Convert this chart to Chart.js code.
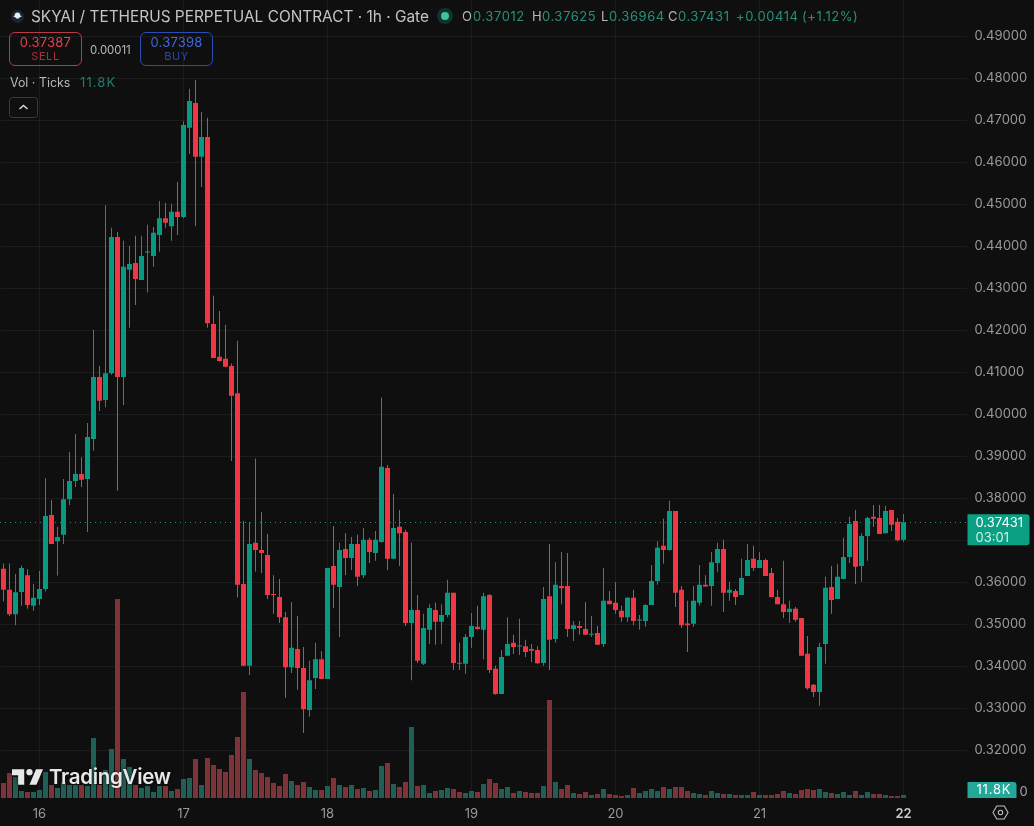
<!DOCTYPE html>
<html>
<head>
<meta charset="utf-8">
<title>SKYAI / TETHERUS PERPETUAL CONTRACT</title>
<script src="https://cdn.jsdelivr.net/npm/chart.js@4/dist/chart.umd.min.js"></script>
<style>
	html, body { margin: 0; padding: 0; background: #0f0f0f; overflow: hidden; }
	#wrap { position: relative; width: 1034px; height: 826px; font-family: Inter, "Noto Sans", sans-serif; }
	#chart { position: absolute; left: 0; top: 0; }
	.txt { position: absolute; white-space: nowrap; line-height: 1; }
	.btn { position: absolute; top: 32px; width: 71px; height: 32px; border-radius: 6px; border: 1px solid; }
	.btn div { position: absolute; left: 0; right: 0; text-align: center; line-height: 1; }
	.num { top: 3px; font-size: 13px; letter-spacing: .2px; }
	.cap { top: 18px; font-size: 11px; letter-spacing: .6px; }
	.ohlc { top: 10px; font-size: 13px; letter-spacing: .55px; }
	.lab { color: #b4b4b4; }
	.val { color: #26917b; }
</style>
</head>
<body>
<div id="wrap">
	<canvas id="chart" width="1034" height="826"></canvas>

	<svg class="txt" style="left:11px;top:10px" width="13" height="13" viewBox="0 0 13 13">
		<circle cx="6.5" cy="6.5" r="6.5" fill="#1b2433"/>
		<path d="M6.5 2.5c1.8 0 2.8 1.2 2.8 2.8l1.4 1.6-1.8.2-1 1.4H5.1l-1-1.4-1.8-.2 1.4-1.6c0-1.6 1-2.8 2.8-2.8z" fill="#e6ecf5"/>
	</svg>
	<div class="txt" style="left:31px;top:8.5px;font-size:15.4px;color:#c4c4c4">SKYAI / TETHERUS PERPETUAL CONTRACT · 1h · Gate</div>
	<svg class="txt" style="left:436px;top:7px" width="18" height="18">
		<circle cx="9" cy="9" r="8" fill="#12332c"/><circle cx="9" cy="9" r="4" fill="#3fc4a2"/>
	</svg>
	<div class="txt lab ohlc" style="left:462px">O</div>
	<div class="txt val ohlc" style="left:473px">0.37012</div>
	<div class="txt lab ohlc" style="left:532px">H</div>
	<div class="txt val ohlc" style="left:542px">0.37625</div>
	<div class="txt lab ohlc" style="left:601px">L</div>
	<div class="txt val ohlc" style="left:609px">0.36964</div>
	<div class="txt lab ohlc" style="left:668px">C</div>
	<div class="txt val ohlc" style="left:678px">0.37431</div>
	<div class="txt val ohlc" style="left:736px">+0.00414</div>
	<div class="txt val ohlc" style="left:802px">(+1.12%)</div>

	<div class="btn" style="left:9px;border-color:#b93a44">
		<div class="num" style="color:#e5404d">0.37387</div>
		<div class="cap" style="color:#a92f3b">SELL</div>
	</div>
	<div class="txt" style="left:90px;top:44.5px;font-size:11.4px;color:#b8b8b8">0.00011</div>
	<div class="btn" style="left:140px;border-color:#2b4db3">
		<div class="num" style="color:#3f68da">0.37398</div>
		<div class="cap" style="color:#2a48a6">BUY</div>
	</div>

	<div class="txt" style="left:10px;top:76.5px;font-size:12.4px;color:#b8b8b8">Vol · Ticks</div>
	<div class="txt" style="left:80px;top:76px;font-size:13px;letter-spacing:1.1px;color:#1f7d68">11.8K</div>
	<svg class="txt" style="left:9px;top:97px" width="29" height="21">
		<rect x=".5" y=".5" width="28" height="20" rx="3" fill="#0f0f0f" stroke="#3a3a3a"/>
		<path d="M10.5 12l4-3.5 4 3.5" fill="none" stroke="#d8d8d8" stroke-width="1.5"/>
	</svg>

	<!-- watermark -->
	<svg class="txt" style="left:12px;top:769px;filter:drop-shadow(0 0 2px #0f0f0f)" width="31" height="16" viewBox="0 4 35.5 18">
		<path d="M14 22H7V11H0V4h14v18zM28 22h-8l7.5-18h8L28 22z" fill="#e8e8e8"/>
		<circle cx="20" cy="7.5" r="3.6" fill="#e8e8e8"/>
	</svg>
	<div class="txt" style="left:49px;top:767px;font-size:20.5px;font-weight:600;color:#e8e8e8;letter-spacing:-.3px;text-shadow:0 0 3px #0f0f0f">TradingView</div>

	<svg class="txt" style="left:992px;top:805px" width="17" height="15" viewBox="0 0 17 15">
		<path d="M1 7.5L4.8 1h7.4L16 7.5 12.2 14H4.8z" fill="none" stroke="#bdbdbd" stroke-width="1.1"/>
		<circle cx="8.5" cy="7.5" r="2.2" fill="none" stroke="#bdbdbd" stroke-width="1.1"/>
	</svg>
</div>

<script>
	// hourly candles, oldest first
	var opens = [
		0.3632,0.3582,0.3524,0.3577,0.3617,0.3544,0.3560,0.3584,0.3760,0.3698,
		0.3713,0.3798,0.3841,0.3858,0.3846,0.3941,0.4089,0.4034,0.4098,0.4422,
		0.4089,0.4344,0.4360,0.4320,0.4385,0.4377,0.4427,0.4467,0.4448,0.4482,
		0.4470,0.4682,0.4741,0.4613,0.4660,0.4215,0.4137,0.4132,0.4115,0.4050,
		0.3596,0.3401,0.3694,0.3677,0.3665,0.3572,0.3565,0.3517,0.3398,0.3441,
		0.3396,0.3296,0.3372,0.3417,0.3370,0.3639,0.3589,0.3679,0.3658,0.3691,
		0.3617,0.3701,0.3670,0.3696,0.3872,0.3656,0.3732,0.3720,0.3503,0.3534,
		0.3406,0.3487,0.3534,0.3506,0.3522,0.3575,0.3408,0.3406,0.3470,0.3494,
		0.3487,0.3570,0.3394,0.3334,0.3425,0.3456,0.3447,0.3448,0.3441,0.3439,
		0.3408,0.3567,0.3465,0.3591,0.3591,0.3489,0.3496,0.3489,0.3475,0.3479,
		0.3453,0.3556,0.3551,0.3532,0.3517,0.3563,0.3509,0.3508,0.3546,0.3603,
		0.3687,0.3677,0.3770,0.3582,0.3502,0.3501,0.3551,0.3594,0.3591,0.3646,
		0.3679,0.3575,0.3579,0.3570,0.3615,0.3656,0.3634,0.3653,0.3622,0.3565,
		0.3548,0.3529,0.3537,0.3515,0.3430,0.3356,0.3339,0.3453,0.3589,0.3560,
		0.3608,0.3660,0.3746,0.3639,0.3710,0.3756,0.3753,0.3717,0.3772,0.3744,
		0.37012
	];
	var closes = [
		0.3582,0.3524,0.3576,0.3634,0.3546,0.3563,0.3584,0.3758,0.3691,0.3708,
		0.3798,0.3841,0.3858,0.3844,0.3946,0.4089,0.4032,0.4098,0.4422,0.4089,
		0.4351,0.4358,0.4322,0.4377,0.4387,0.4432,0.4467,0.4456,0.4482,0.4470,
		0.4689,0.4746,0.4613,0.4660,0.4217,0.4134,0.4127,0.4113,0.4044,0.3594,
		0.3401,0.3691,0.3677,0.3670,0.3570,0.3570,0.3517,0.3398,0.3444,0.3396,
		0.3298,0.3367,0.3417,0.3370,0.3634,0.3594,0.3677,0.3658,0.3691,0.3613,
		0.3701,0.3672,0.3701,0.3875,0.3656,0.3729,0.3717,0.3503,0.3534,0.3413,
		0.3491,0.3539,0.3506,0.3522,0.3575,0.3408,0.3406,0.3470,0.3496,0.3489,
		0.3567,0.3391,0.3334,0.3422,0.3453,0.3446,0.3448,0.3434,0.3437,0.3407,
		0.3560,0.3463,0.3594,0.3586,0.3489,0.3498,0.3491,0.3475,0.3476,0.3451,
		0.3556,0.3548,0.3534,0.3517,0.3563,0.3508,0.3510,0.3546,0.3603,0.3682,
		0.3677,0.3770,0.3575,0.3498,0.3498,0.3556,0.3594,0.3590,0.3648,0.3679,
		0.3575,0.3582,0.3565,0.3610,0.3653,0.3634,0.3653,0.3615,0.3565,0.3548,
		0.3529,0.3537,0.3511,0.3425,0.3348,0.3339,0.3446,0.3587,0.3558,0.3613,
		0.3660,0.3739,0.3637,0.3710,0.3753,0.3751,0.3715,0.3770,0.3737,0.3700,
		0.37431
	];
	var highs = [
		0.3645,0.3645,0.3620,0.3640,0.3631,0.3596,0.3627,0.3848,0.3796,0.3732,
		0.3846,0.3910,0.3953,0.3898,0.3979,0.4201,0.4115,0.4498,0.4444,0.4434,
		0.4413,0.4401,0.4425,0.4425,0.4451,0.4446,0.4508,0.4503,0.4501,0.4553,
		0.4698,0.4775,0.4796,0.4720,0.4706,0.4282,0.4246,0.4213,0.4121,0.4175,
		0.3746,0.3743,0.3895,0.3767,0.3715,0.3617,0.3608,0.3529,0.3553,0.3520,
		0.3446,0.3413,0.3456,0.3436,0.3634,0.3734,0.3694,0.3717,0.3708,0.3713,
		0.3729,0.3706,0.3722,0.4040,0.3879,0.3810,0.3772,0.3725,0.3694,0.3570,
		0.3525,0.3548,0.3551,0.3548,0.3606,0.3575,0.3456,0.3477,0.3527,0.3544,
		0.3575,0.3572,0.3401,0.3439,0.3517,0.3475,0.3513,0.3463,0.3453,0.3448,
		0.3589,0.3691,0.3648,0.3672,0.3670,0.3508,0.3508,0.3553,0.3520,0.3496,
		0.3634,0.3579,0.3600,0.3544,0.3565,0.3582,0.3522,0.3548,0.3641,0.3698,
		0.3751,0.3794,0.3770,0.3591,0.3556,0.3591,0.3641,0.3617,0.3672,0.3694,
		0.3701,0.3601,0.3584,0.3656,0.3691,0.3687,0.3672,0.3656,0.3634,0.3582,
		0.3651,0.3556,0.3541,0.3515,0.3472,0.3358,0.3456,0.3613,0.3639,0.3644,
		0.3706,0.3756,0.3772,0.3717,0.3756,0.3784,0.3784,0.3782,0.3772,0.3753,
		0.37625
	];
	var lows = [
		0.3555,0.3520,0.3498,0.3544,0.3537,0.3532,0.3546,0.3578,0.3691,0.3616,
		0.3691,0.3784,0.3827,0.3827,0.3720,0.3913,0.4008,0.4017,0.4094,0.3818,
		0.4022,0.4206,0.4260,0.4320,0.4290,0.4351,0.4387,0.4444,0.4413,0.4427,
		0.4467,0.4620,0.4448,0.4541,0.4206,0.4134,0.4125,0.4112,0.3889,0.3564,
		0.3401,0.3379,0.3625,0.3622,0.3560,0.3525,0.3503,0.3325,0.3384,0.3344,
		0.3241,0.3280,0.3346,0.3370,0.3370,0.3539,0.3470,0.3617,0.3629,0.3591,
		0.3610,0.3646,0.3651,0.3694,0.3629,0.3656,0.3639,0.3496,0.3367,0.3408,
		0.3403,0.3453,0.3451,0.3453,0.3517,0.3391,0.3391,0.3382,0.3444,0.3487,
		0.3417,0.3384,0.3332,0.3334,0.3425,0.3429,0.3427,0.3422,0.3410,0.3406,
		0.3401,0.3391,0.3456,0.3548,0.3470,0.3460,0.3475,0.3475,0.3470,0.3451,
		0.3446,0.3548,0.3525,0.3506,0.3506,0.3498,0.3487,0.3494,0.3546,0.3594,
		0.3644,0.3675,0.3541,0.3491,0.3434,0.3494,0.3544,0.3590,0.3544,0.3625,
		0.3529,0.3556,0.3546,0.3570,0.3615,0.3627,0.3634,0.3615,0.3565,0.3548,
		0.3515,0.3503,0.3506,0.3425,0.3344,0.3327,0.3306,0.3406,0.3525,0.3560,
		0.3608,0.3646,0.3596,0.3601,0.3651,0.3732,0.3715,0.3717,0.3722,0.3698,
		0.36964
	];
	// ticks per hour, in thousands
	var volumes = [
		60,100,84,28,24,24,32,104,52,40,
		64,52,52,52,48,240,52,112,196,796,
		156,124,52,40,48,24,48,48,28,36,
		76,80,156,52,160,132,116,104,172,244,
		424,156,112,100,84,60,48,96,68,52,
		64,44,32,32,48,80,52,44,52,36,
		40,28,32,128,140,56,44,64,284,48,
		52,20,28,32,40,36,24,20,28,24,
		56,76,60,36,44,20,28,24,20,20,
		48,392,64,36,52,20,16,24,12,16,
		36,16,12,8,12,40,20,28,36,28,
		44,36,44,44,28,20,16,12,28,20,
		16,16,12,12,12,24,12,12,12,16,
		28,20,16,32,36,32,36,24,20,16,
		24,12,28,12,24,16,16,12,8,8,
		11.8
	];

	var priceTicks = [0.32,0.33,0.34,0.35,0.36,0.37,0.38,0.39,0.40,0.41,0.42,0.43,0.44,0.45,0.46,0.47,0.48,0.49];
	var dayIndexes = [6,30,54,78,102,126,150];
	var dayLabels = ["16","17","18","19","20","21","22"];

	var UP = "#089981";
	var DOWN = "#f23645";
	var UP_VOL = "#1f5f55";
	var DOWN_VOL = "#7d3338";
	var EMPTY_HOURS = 10;

	function candleColors(){
		return opens.map(function(open, i){
			return closes[i] >= open ? UP : DOWN;
		});
	}

	function volumeColors(){
		return opens.map(function(open, i){
			return closes[i] >= open ? UP_VOL : DOWN_VOL;
		});
	}

	function getCategories(){
		var labels = [];
		for(var i = 0; i < opens.length + EMPTY_HOURS; i++){
			labels.push(i);
		}
		return labels;
	}

	// no room reserved for the first and last tick label
	function clearScalePadding(scale){
		scale.paddingTop = 0;
		scale.paddingBottom = 0;
		scale.paddingLeft = 0;
		scale.paddingRight = 0;
	}

	// dotted line at the last close
	var lastPriceLine = {
		id: "lastPriceLine",
		beforeDatasetsDraw: function(chart){
			var ctx = chart.ctx;
			var y = Math.round(chart.scales.y.getPixelForValue(closes[closes.length - 1])) + 0.5;
			ctx.save();
			ctx.strokeStyle = "#2a8a76";
			ctx.setLineDash([1, 4]);
			ctx.beginPath();
			ctx.moveTo(0, y);
			ctx.lineTo(chart.chartArea.right, y);
			ctx.stroke();
			ctx.restore();
		}
	};

	// value tags on the right hand scale
	var scaleTags = {
		id: "scaleTags",
		afterDraw: function(chart){
			var ctx = chart.ctx;
			var right = chart.chartArea.right;
			var priceY = chart.scales.y.getPixelForValue(closes[closes.length - 1]);
			var baseY = chart.chartArea.bottom;

			ctx.save();
			ctx.fillStyle = "#0f0f0f";
			ctx.fillRect(right, priceY - 12, 68, 34);

			ctx.fillStyle = "#0b9f84";
			ctx.beginPath();
			ctx.roundRect(right + 1, priceY - 8, 62, 31, [0, 3, 3, 0]);
			ctx.fill();

			ctx.textBaseline = "middle";
			ctx.textAlign = "left";
			ctx.font = "13px Inter";
			ctx.fillStyle = "#ffffff";
			ctx.fillText("0.37431", right + 9, priceY + 0.5);
			ctx.fillStyle = "#d5efe9";
			ctx.fillText("03:01", right + 9, priceY + 15.5);

			ctx.fillStyle = "#22a898";
			ctx.beginPath();
			ctx.roundRect(right + 1, baseY - 16, 49, 16, [0, 3, 0, 0]);
			ctx.fill();
			ctx.fillStyle = "#ffffff";
			ctx.letterSpacing = "0.8px";
			ctx.fillText("11.8K", right + 10, baseY - 7.5);
			ctx.letterSpacing = "0px";

			ctx.fillStyle = "#a6a6a6";
			ctx.fillText("0", right + 53, baseY - 6);
			ctx.restore();
		}
	};

	function drawChart(){
		var upDown = candleColors();

		new Chart("chart", {
			type: "bar",
			data: {
				labels: getCategories(),
				datasets: [
					{
						// candle bodies
						data: opens.map(function(open, i){ return [open, closes[i]]; }),
						backgroundColor: upDown,
						barThickness: 5,
						minBarLength: 1,
						grouped: false,
						inflateAmount: 0,
						yAxisID: "y",
						order: 1
					},
					{
						// wicks
						data: lows.map(function(low, i){ return [low, highs[i]]; }),
						backgroundColor: upDown,
						barThickness: 1,
						grouped: false,
						inflateAmount: 0,
						yAxisID: "y",
						order: 2
					},
					{
						data: volumes,
						backgroundColor: volumeColors(),
						barThickness: 5,
						grouped: false,
						inflateAmount: 0,
						yAxisID: "yVol",
						order: 3
					}
				]
			},
			options: {
				responsive: false,
				animation: false,
				layout: { padding: { left: 0.5 } },
				plugins: {
					legend: { display: false },
					tooltip: { enabled: false }
				},
				scales: {
					x: {
						offset: true,
						border: { display: false },
						grid: { color: "rgba(242,242,242,0.06)", offset: false, drawTicks: false },
						afterBuildTicks: function(scale){
							scale.ticks = dayIndexes.map(function(i){ return { value: i }; });
						},
						afterFit: function(scale){
							scale.height = 28;
							clearScalePadding(scale);
						},
						ticks: {
							autoSkip: false,
							maxRotation: 0,
							padding: 8,
							font: function(ctx){
								var last = ctx.index === dayIndexes.length - 1;
								return { family: "Inter", size: 13, weight: last ? "600" : "400" };
							},
							color: function(ctx){
								return ctx.index === dayIndexes.length - 1 ? "#c8c8c8" : "#9a9a9a";
							},
							callback: function(value){
								return dayLabels[dayIndexes.indexOf(value)];
							}
						}
					},
					y: {
						position: "right",
						min: 0.30864,
						max: 0.49864,
						border: { display: false },
						grid: { color: "rgba(242,242,242,0.06)", drawTicks: false },
						afterBuildTicks: function(scale){
							scale.ticks = priceTicks.map(function(v){ return { value: v }; });
						},
						afterFit: function(scale){
							scale.width = 67.5;
							clearScalePadding(scale);
						},
						ticks: {
							autoSkip: false,
							padding: 8,
							crossAlign: "near",
							font: { family: "Inter", size: 13 },
							color: "#9a9a9a",
							callback: function(value){
								return value.toFixed(5);
							}
						}
					},
					yVol: {
						display: false,
						min: 0,
						max: 3192
					}
				}
			},
			plugins: [lastPriceLine, scaleTags]
		});
	}

	drawChart();
</script>
</body>
</html>
